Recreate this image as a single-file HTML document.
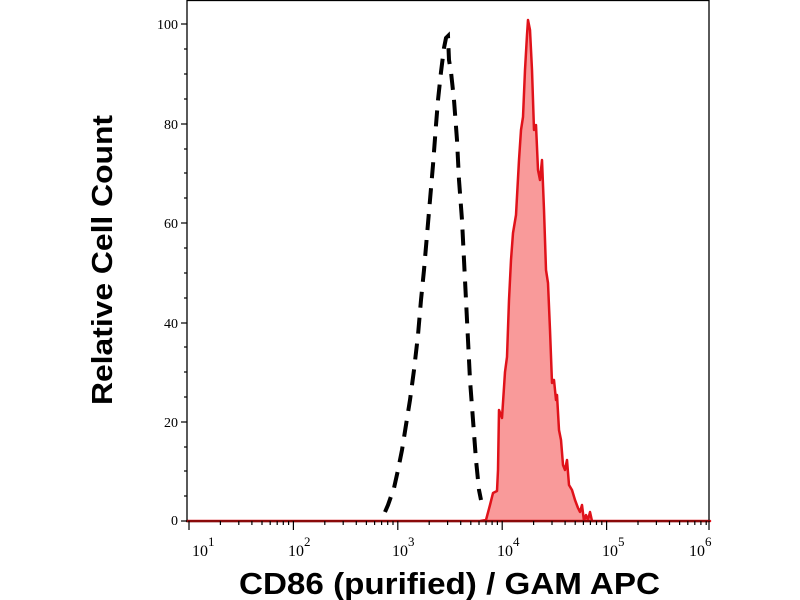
<!DOCTYPE html>
<html><head><meta charset="utf-8"><style>
html,body{margin:0;padding:0;background:#fff;width:800px;height:600px;overflow:hidden}
</style></head><body>
<svg width="800" height="600" viewBox="0 0 800 600" xmlns="http://www.w3.org/2000/svg">
<rect width="800" height="600" fill="#fff"/>
<path d="M187,521 L480,521 L486,520 L490,505 L493,493 L497,491 L498,470 L499,410 L502,418 L505,372 L507,357 L509,300 L511,260 L513,233 L516,215 L519,160 L521,130 L523,117 L525,70 L527,35 L528,20 L530,30 L532,70 L534,130 L536,125 L538,170 L540,180 L542,160 L544,210 L546,270 L548,283 L550,330 L552,383 L554,380 L556,400 L557,395 L559,430 L561,440 L563,465 L565,470 L567,460 L569,485 L572,490 L575,500 L578,508 L580,512 L582,505 L584,521 L586,515 L588,520 L590,512 L592,521 L710,521 Z" fill="#f99a9a" stroke="#e0121a" stroke-width="2.5" stroke-linejoin="round"/>
<path d="M385,512 L388,505 L394,488 L398,470 L402,450 L406,425 L410,400 L414,370 L418,335 L421,300 L424,270 L427,235 L430,200 L433,165 L436,125 L438,100 L441,72 L444,48 L446,38 L448,36 L449,60 L451,72 L454,100 L457,140 L459,180 L462,220 L464,260 L466,300 L468,340 L470,380 L473,420 L476,460 L479,490 L481,500" fill="none" stroke="#000" stroke-width="4" stroke-dasharray="16,10"/>
<rect x="187" y="0.5" width="522" height="521" fill="none" stroke="#000" stroke-width="1.3"/>
<line x1="187" y1="521" x2="710" y2="521" stroke="#8a0a0a" stroke-width="2"/>
<g stroke="#000" stroke-width="1.2">
<line x1="181" y1="521" x2="187" y2="521"/><line x1="181" y1="422" x2="187" y2="422"/><line x1="181" y1="323" x2="187" y2="323"/><line x1="181" y1="223" x2="187" y2="223"/><line x1="181" y1="124" x2="187" y2="124"/><line x1="181" y1="24" x2="187" y2="24"/>
<line x1="184" y1="496" x2="187" y2="496"/><line x1="184" y1="471" x2="187" y2="471"/><line x1="184" y1="447" x2="187" y2="447"/>
<line x1="184" y1="397" x2="187" y2="397"/><line x1="184" y1="372" x2="187" y2="372"/><line x1="184" y1="347" x2="187" y2="347"/>
<line x1="184" y1="298" x2="187" y2="298"/><line x1="184" y1="273" x2="187" y2="273"/><line x1="184" y1="248" x2="187" y2="248"/>
<line x1="184" y1="198" x2="187" y2="198"/><line x1="184" y1="173" x2="187" y2="173"/><line x1="184" y1="149" x2="187" y2="149"/>
<line x1="184" y1="99" x2="187" y2="99"/><line x1="184" y1="74" x2="187" y2="74"/><line x1="184" y1="49" x2="187" y2="49"/>
</g>
<g font-family="Liberation Serif, serif" font-size="14" fill="#000" text-anchor="end">
<text x="178" y="525">0</text><text x="178" y="427">20</text><text x="178" y="328">40</text><text x="178" y="228">60</text><text x="178" y="129">80</text><text x="178" y="29">100</text>
</g>
<g stroke="#000" stroke-width="1.2">
<line x1="189" y1="521" x2="189" y2="530"/><line x1="293.4" y1="521" x2="293.4" y2="530"/><line x1="397.8" y1="521" x2="397.8" y2="530"/><line x1="502.2" y1="521" x2="502.2" y2="530"/><line x1="606.6" y1="521" x2="606.6" y2="530"/><line x1="709" y1="521" x2="709" y2="530"/>
<path d="M220.4,521v4M238.8,521v4M251.9,521v4M262,521v4M270.2,521v4M277.2,521v4M283.3,521v4M288.6,521v4
M324.8,521v4M343.2,521v4M356.3,521v4M366.4,521v4M374.6,521v4M381.6,521v4M387.7,521v4M393,521v4
M429.2,521v4M447.6,521v4M460.7,521v4M470.8,521v4M479,521v4M486,521v4M492.1,521v4M497.4,521v4
M533.6,521v4M552,521v4M565.1,521v4M575.2,521v4M583.4,521v4M590.4,521v4M596.5,521v4M601.8,521v4
M638,521v4M656.4,521v4M669.5,521v4M679.6,521v4M687.8,521v4M694.8,521v4M700.9,521v4M706.2,521v4"/>
</g>
<g font-family="Liberation Serif, serif" font-size="16" fill="#000">
<text x="192" y="556">10<tspan font-size="13" dy="-10">1</tspan></text>
<text x="288" y="556">10<tspan font-size="13" dy="-10">2</tspan></text>
<text x="392" y="556">10<tspan font-size="13" dy="-10">3</tspan></text>
<text x="497" y="556">10<tspan font-size="13" dy="-10">4</tspan></text>
<text x="602" y="556">10<tspan font-size="13" dy="-10">5</tspan></text>
<text x="689" y="556">10<tspan font-size="13" dy="-10">6</tspan></text>
</g>
<text x="239" y="594" textLength="421" lengthAdjust="spacingAndGlyphs" font-family="Liberation Sans, sans-serif" font-weight="bold" font-size="31" fill="#000">CD86 (purified) / GAM APC</text>
<text transform="translate(112,405) rotate(-90)" textLength="290" lengthAdjust="spacingAndGlyphs" font-family="Liberation Sans, sans-serif" font-weight="bold" font-size="29" fill="#000">Relative Cell Count</text>
</svg>
</body></html>
